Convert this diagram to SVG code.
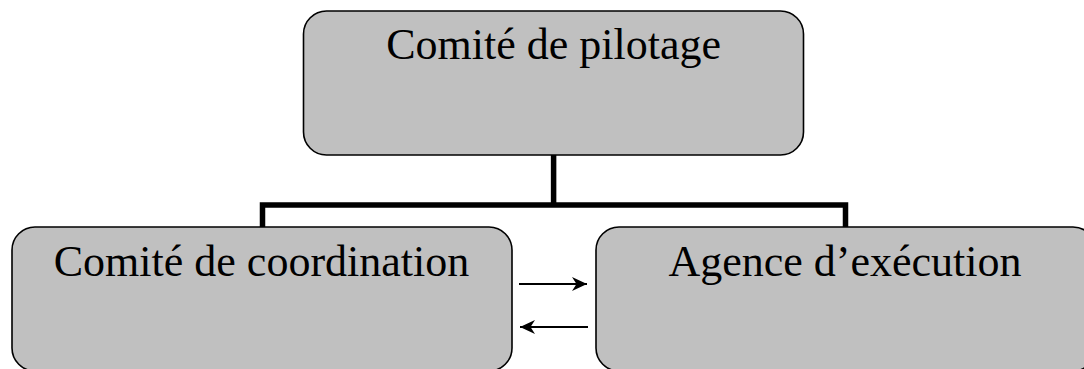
<svg xmlns="http://www.w3.org/2000/svg" width="1084" height="369" viewBox="0 0 1084 369">
  <style>
    .box { fill: #c0c0c0; stroke: #000; stroke-width: 1.6; }
    .lbl { font-family: "Liberation Serif", "Times New Roman", serif; font-size: 44px; fill: #000; text-anchor: middle; }
    .tree { fill: none; stroke: #000; stroke-width: 5.5; stroke-linejoin: miter; }
    .arr { fill: none; stroke: #000; stroke-width: 2; }
  </style>
  <defs>
    <marker id="ah" viewBox="0 0 16 16" refX="15" refY="8" markerWidth="16" markerHeight="16" markerUnits="userSpaceOnUse" orient="auto">
      <path d="M15,8 L0,1 L4.5,8 L0,15 Z" fill="#000"/>
    </marker>
  </defs>
  <rect width="1084" height="369" fill="#fff"/>
  <g id="connectors">
    <path class="tree" d="M553.6,155 V205"/>
    <path class="tree" d="M262.5,227 V205 H845.5 V227"/>
    <line class="arr" x1="519" y1="284" x2="587" y2="284" marker-end="url(#ah)"/>
    <line class="arr" x1="588" y1="327" x2="520" y2="327" marker-end="url(#ah)"/>
  </g>
  <g id="node-pilotage">
    <rect class="box" x="303.5" y="11" width="500" height="144" rx="23" ry="23"/>
    <text class="lbl" x="553.6" y="59">Comité de pilotage</text>
  </g>
  <g id="node-coordination">
    <rect class="box" x="12" y="227" width="500" height="144" rx="23" ry="23"/>
    <text class="lbl" x="261.5" y="276">Comité de coordination</text>
  </g>
  <g id="node-agence">
    <rect class="box" x="596" y="227" width="500" height="144" rx="23" ry="23"/>
    <text class="lbl" x="845" y="276">Agence d’exécution</text>
  </g>
</svg>
